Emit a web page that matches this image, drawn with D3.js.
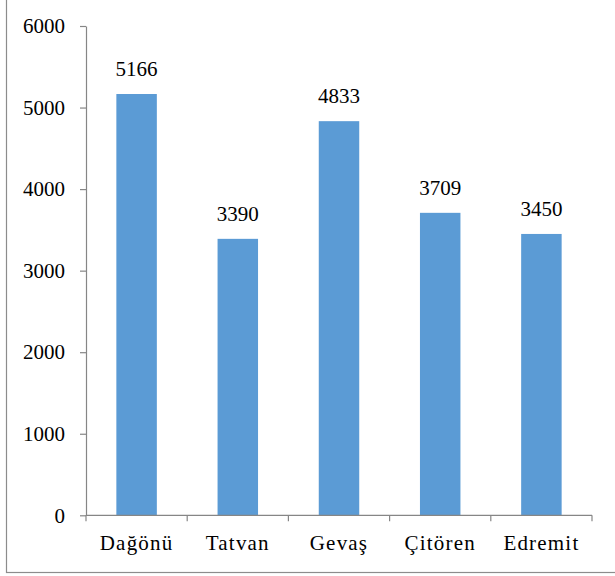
<!DOCTYPE html>
<html>
<head>
<meta charset="utf-8">
<script src="https://cdn.jsdelivr.net/npm/d3@7"></script>
</head>
<body style="margin:0">
<svg id="chart" width="615" height="576" font-family="Liberation Serif" style="display:block"></svg>
<script>
// Districts and their values
const categories = ["Dağönü", "Tatvan", "Gevaş", "Çitören", "Edremit"];
const values = [5166, 3390, 4833, 3709, 3450];
const yTicks = [0, 1000, 2000, 3000, 4000, 5000, 6000];

const svg = d3.select("#chart");
const W = 615, H = 576;
const margin = { left: 86, right: 23, top: 26, bottom: 60.7 };

// Outer frame (top and right edges fall outside the view)
svg.append("rect")
  .attr("x", 6.5).attr("y", -10)
  .attr("width", W + 10).attr("height", 573 + 10 - 0.5)
  .attr("fill", "none").attr("stroke", "#8c8c8c").attr("stroke-width", 1.2);

const x = d3.scaleBand()
  .domain(categories)
  .range([margin.left, W - margin.right])
  .paddingInner(0.6).paddingOuter(0.3);

const y = d3.scaleLinear()
  .domain([0, 6000])
  .range([H - margin.bottom, margin.top]);

// Bars
svg.append("g").selectAll("rect")
  .data(values)
  .join("rect")
  .attr("x", (d, i) => x(categories[i]))
  .attr("y", d => y(d))
  .attr("width", x.bandwidth())
  .attr("height", d => y(0) - y(d))
  .attr("fill", "#5b9bd5");

// Value labels
svg.append("g").selectAll("text")
  .data(values)
  .join("text")
  .attr("x", (d, i) => x(categories[i]) + x.bandwidth() / 2)
  .attr("y", d => y(d) - 18)
  .attr("text-anchor", "middle")
  .attr("font-size", 21)
  .style("font-family", '"Liberation Serif"')
  .text(d => d);

// Y axis
const yAxis = svg.append("g")
  .attr("transform", `translate(${margin.left},0)`)
  .call(d3.axisLeft(y).tickValues(yTicks).tickSize(6).tickSizeOuter(0).tickPadding(15).tickFormat(d3.format("d")));
yAxis.attr("font-family", "Liberation Serif").attr("font-size", 21);
yAxis.select(".domain").attr("stroke", "#868686").attr("stroke-width", 1.2);
yAxis.selectAll(".tick line").attr("stroke", "#868686").attr("stroke-width", 1.2);
yAxis.selectAll(".tick text")
  .attr("fill", "#000")
  .attr("dy", "0.32em")
  .style("font-family", '"Liberation Serif"');

// X axis with boundary ticks between categories
const xAxisG = svg.append("g").attr("transform", `translate(0,${y(0)})`);
const [x0, x1] = x.range();
xAxisG.append("line")
  .attr("x1", x0).attr("x2", x1)
  .attr("stroke", "#868686").attr("stroke-width", 1.2);
xAxisG.selectAll(".bt")
  .data(d3.range(categories.length + 1))
  .join("line")
  .attr("x1", i => x0 + i * x.step())
  .attr("x2", i => x0 + i * x.step())
  .attr("y1", 0).attr("y2", 6)
  .attr("stroke", "#868686").attr("stroke-width", 1.2);
xAxisG.selectAll(".cat")
  .data(categories)
  .join("text")
  .attr("x", d => x(d) + x.bandwidth() / 2)
  .attr("y", 35)
  .attr("text-anchor", "middle")
  .attr("font-size", 21)
  .attr("letter-spacing", 1.2)
  .style("font-family", '"Liberation Serif"')
  .text(d => d);
</script>
</body>
</html>
